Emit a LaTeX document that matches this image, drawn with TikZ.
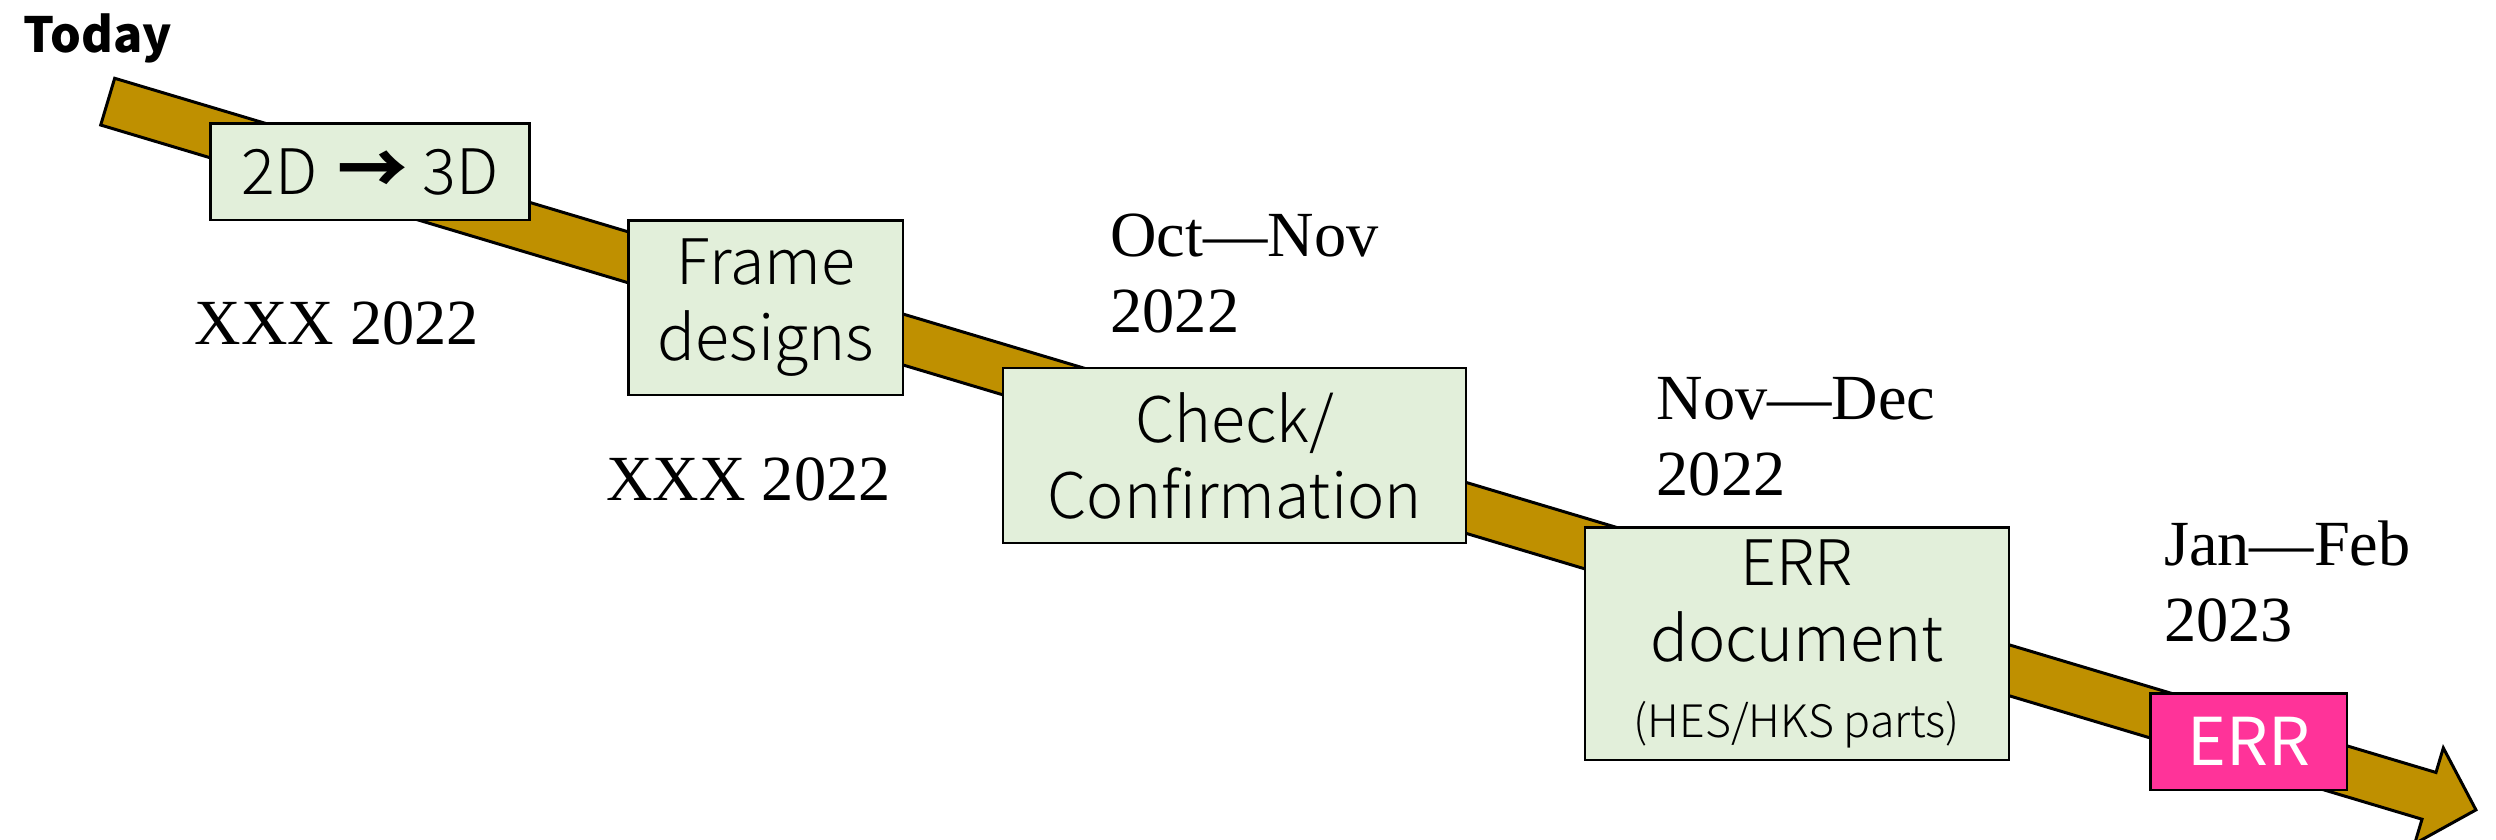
\documentclass[tikz,border=0pt]{standalone}
\usepackage{fontspec}
\setmainfont{Liberation Serif}
\newfontfamily\jpf{Noto Sans CJK JP Light}
\newfontfamily\jpr{Noto Sans CJK JP}
\definecolor{arrowgold}{HTML}{BF9000}
\definecolor{boxgreen}{HTML}{E2EFDA}
\definecolor{errpink}{HTML}{FF3399}
\begin{document}
\begin{tikzpicture}[x=0.01cm,y=-0.01cm,
  box/.style={draw=black, line width=0.7pt, fill=boxgreen, align=center, inner sep=0pt,
              font=\jpf\fontsize{17.85}{21.6}\selectfont},
  datelbl/.style={anchor=north west, align=left, inner sep=0pt,
              font=\fontsize{18.3}{21.6}\selectfont}]
\useasboundingbox (0,0) rectangle (2496,839);
% big timeline arrow
\begin{scope}[shift={(107.7,101.65)}, rotate=-16.65]
  \draw[fill=arrowgold, line width=0.85pt, line join=miter]
    (0,-24.4) -- (2423,-24.4) -- (2423,-50) -- (2472,0) -- (2423,50)
    -- (2423,24.4) -- (0,24.4) -- cycle;
\end{scope}
% title
\node[anchor=base west, inner sep=0pt, font=\jpr\bfseries\fontsize{13.8}{16}\selectfont] (today) at (23,52.3) {Today};
% boxes
\node[box, minimum width=3.186cm, minimum height=0.967cm] (b1) at (370,171.7)
  {2D\hspace{0.06cm} {\jpr\bfseries\fontsize{20}{21.6}\selectfont →}\hspace{0.01cm} 3D};
\node[box, minimum width=2.744cm, minimum height=1.743cm] (b2) at (765.9,307.9) {Frame\\designs};
\node[box, minimum width=4.624cm, minimum height=1.744cm] (b3) at (1234.5,455.5) {Check/\\Confirmation};
\node[box, minimum width=4.237cm, minimum height=2.327cm] (b4) at (1796.9,643.7)
  {ERR\\document\\{\fontsize{12.7}{16.4}\selectfont (HES/HKS parts)}};
\node[box, fill=errpink, text=white, minimum width=1.96cm, minimum height=0.967cm,
  font=\jpr\fontsize{18.75}{22}\selectfont] (b5) at (2248.7,741.7) {ERR};
% dates
\node[datelbl] (d1) at (194,300.7) {XXX 2022};
\node[datelbl] (d2) at (605.7,457.3) {XXX 2022};
\node[datelbl] (d3) at (1109.8,213.3) {Oct—Nov\\2022};
\node[datelbl] (d4) at (1656,376.7) {Nov—Dec\\2022};
\node[datelbl] (d5) at (2163.3,520) {Jan—Feb\\2023};
\end{tikzpicture}
\end{document}
